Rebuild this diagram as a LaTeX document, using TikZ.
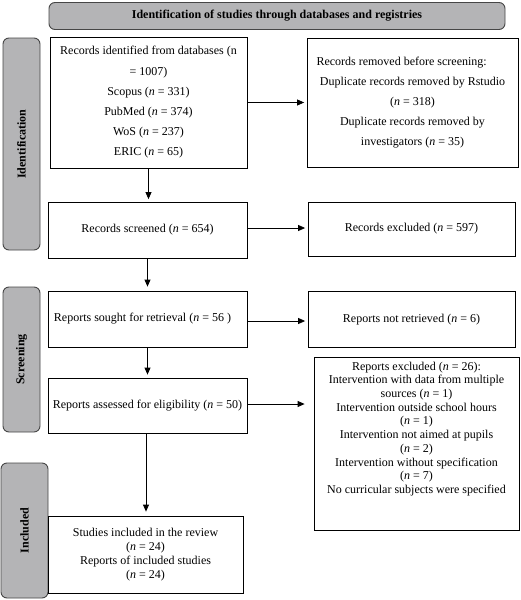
\documentclass[tikz,border=0pt]{standalone}
\usepackage{fontspec}
\setmainfont{Liberation Serif}
\usetikzlibrary{arrows.meta,calc}
\definecolor{bargray}{RGB}{180,180,182}
\definecolor{bardraw}{RGB}{70,70,70}
\begin{document}
\begin{tikzpicture}[x=1pt,y=-1pt,
  box/.style={draw=black,line width=0.8pt,inner sep=0pt,align=center,
    font=\fontsize{12}{20.2}\selectfont},
  tightbox/.style={box,font=\fontsize{12}{14}\selectfont},
  bar/.style={draw=bardraw,fill=bargray,line width=0.9pt,rounded corners=6pt,inner sep=0pt},
  barlabel/.style={rotate=90,font=\fontsize{12}{14}\selectfont\bfseries},
  arr/.style={line width=0.8pt,-{Triangle[length=7pt,width=6pt]},shorten >=2.5pt}]
\useasboundingbox (0,0) rectangle (520,600);
% banner and side bars
\node[bar,minimum width=456pt,minimum height=27pt,font=\fontsize{12}{14}\selectfont\bfseries] (banner) at (277,16)
  {Identification of studies through databases and registries};
\node[bar,minimum width=37pt,minimum height=212pt] (idbar) at (21.5,144) {};
\node[barlabel] (idlab) at (idbar.center) {Identification};
\node[bar,minimum width=37pt,minimum height=145pt] (scbar) at (21.5,359.5) {};
\node[barlabel] (sclab) at (scbar.center) {Screening};
\node[bar,minimum width=47pt,minimum height=135pt] (inbar) at (24.5,530.5) {};
\node[barlabel] (inlab) at (inbar.center) {Included};
% left column
\node[box,minimum width=197pt,minimum height=131pt] (b1) at (148.5,102.5)
  {Records identified from databases (n\\ = 1007)\\ Scopus (\textit{n} = 331)\\ PubMed (\textit{n} = 374)\\ WoS (\textit{n} = 237)\\ ERIC (\textit{n} = 65)};
\node[box,minimum width=199pt,minimum height=56pt] (b3) at (147.5,230)
  {Records screened (\textit{n} = 654)};
\node[box,minimum width=199pt,minimum height=56pt] (b5) at (147.5,319)
  {\hspace*{-10pt}Reports sought for retrieval (\textit{n} = 56 )};
\node[box,minimum width=199pt,minimum height=55pt] (b7) at (147.5,405.5)
  {Reports assessed for eligibility (\textit{n} = 50)};
\node[tightbox,minimum width=195pt,minimum height=77pt] (b8) at (145.5,554.5)
  {Studies included in the review\\ (\textit{n} = 24)\\ Reports of included studies\\ (\textit{n} = 24)};
% right column
\node[box,minimum width=211pt,minimum height=129pt] (b2) at (412.5,102.5)
  {\makebox[192pt][l]{Records removed before screening:}\\ Duplicate records removed by Rstudio\\ (\textit{n} = 318)\\ Duplicate records removed by\\ investigators (\textit{n} = 35)};
\node[box,minimum width=207pt,minimum height=54pt] (b4) at (411.5,229)
  {Records excluded (\textit{n} = 597)};
\node[box,minimum width=207pt,minimum height=56pt] (b6) at (411.5,319.5)
  {Reports not retrieved (\textit{n} = 6)};
\node[draw=black,line width=0.8pt,minimum width=205pt,minimum height=173pt,inner sep=0pt] (b9) at (416.5,443.5) {};
\node[align=center,anchor=north,inner sep=0pt,font=\fontsize{12}{13.7}\selectfont] (b9t) at ($(b9.north)+(0,5)$)
  {Reports excluded (\textit{n} = 26):\\ Intervention with data from multiple\\ sources (\textit{n} = 1)\\ Intervention outside school hours\\ (\textit{n} = 1)\\ Intervention not aimed at pupils\\ (\textit{n} = 2)\\ Intervention without specification\\ (\textit{n} = 7)\\ No curricular subjects were specified};
% connectors
\draw[arr] (b1.east) -- (b1.east -| b2.west);
\draw[arr] ($(b3.east)+(0,-2)$) -- ($(b3.east -| b4.west)+(0,-2)$);
\draw[arr] ($(b5.east)+(0,2)$) -- ($(b5.east -| b6.west)+(0,2)$);
\draw[arr,shorten >=9pt] ($(b7.east)+(0,-1.5)$) -- ($(b7.east -| b9.west)+(0,-1.5)$);
\draw[arr] (b1.south) -- (b1.south |- b3.north);
\draw[arr,shorten >=4pt] (b3.south) -- (b3.south |- b5.north);
\draw[arr,shorten >=3pt] (b5.south) -- (b5.south |- b7.north);
\draw[arr,shorten >=4pt] ($(b7.south)+(-1.5,0)$) -- ($(b7.south |- b8.north)+(-1.5,0)$);
\end{tikzpicture}
\end{document}
